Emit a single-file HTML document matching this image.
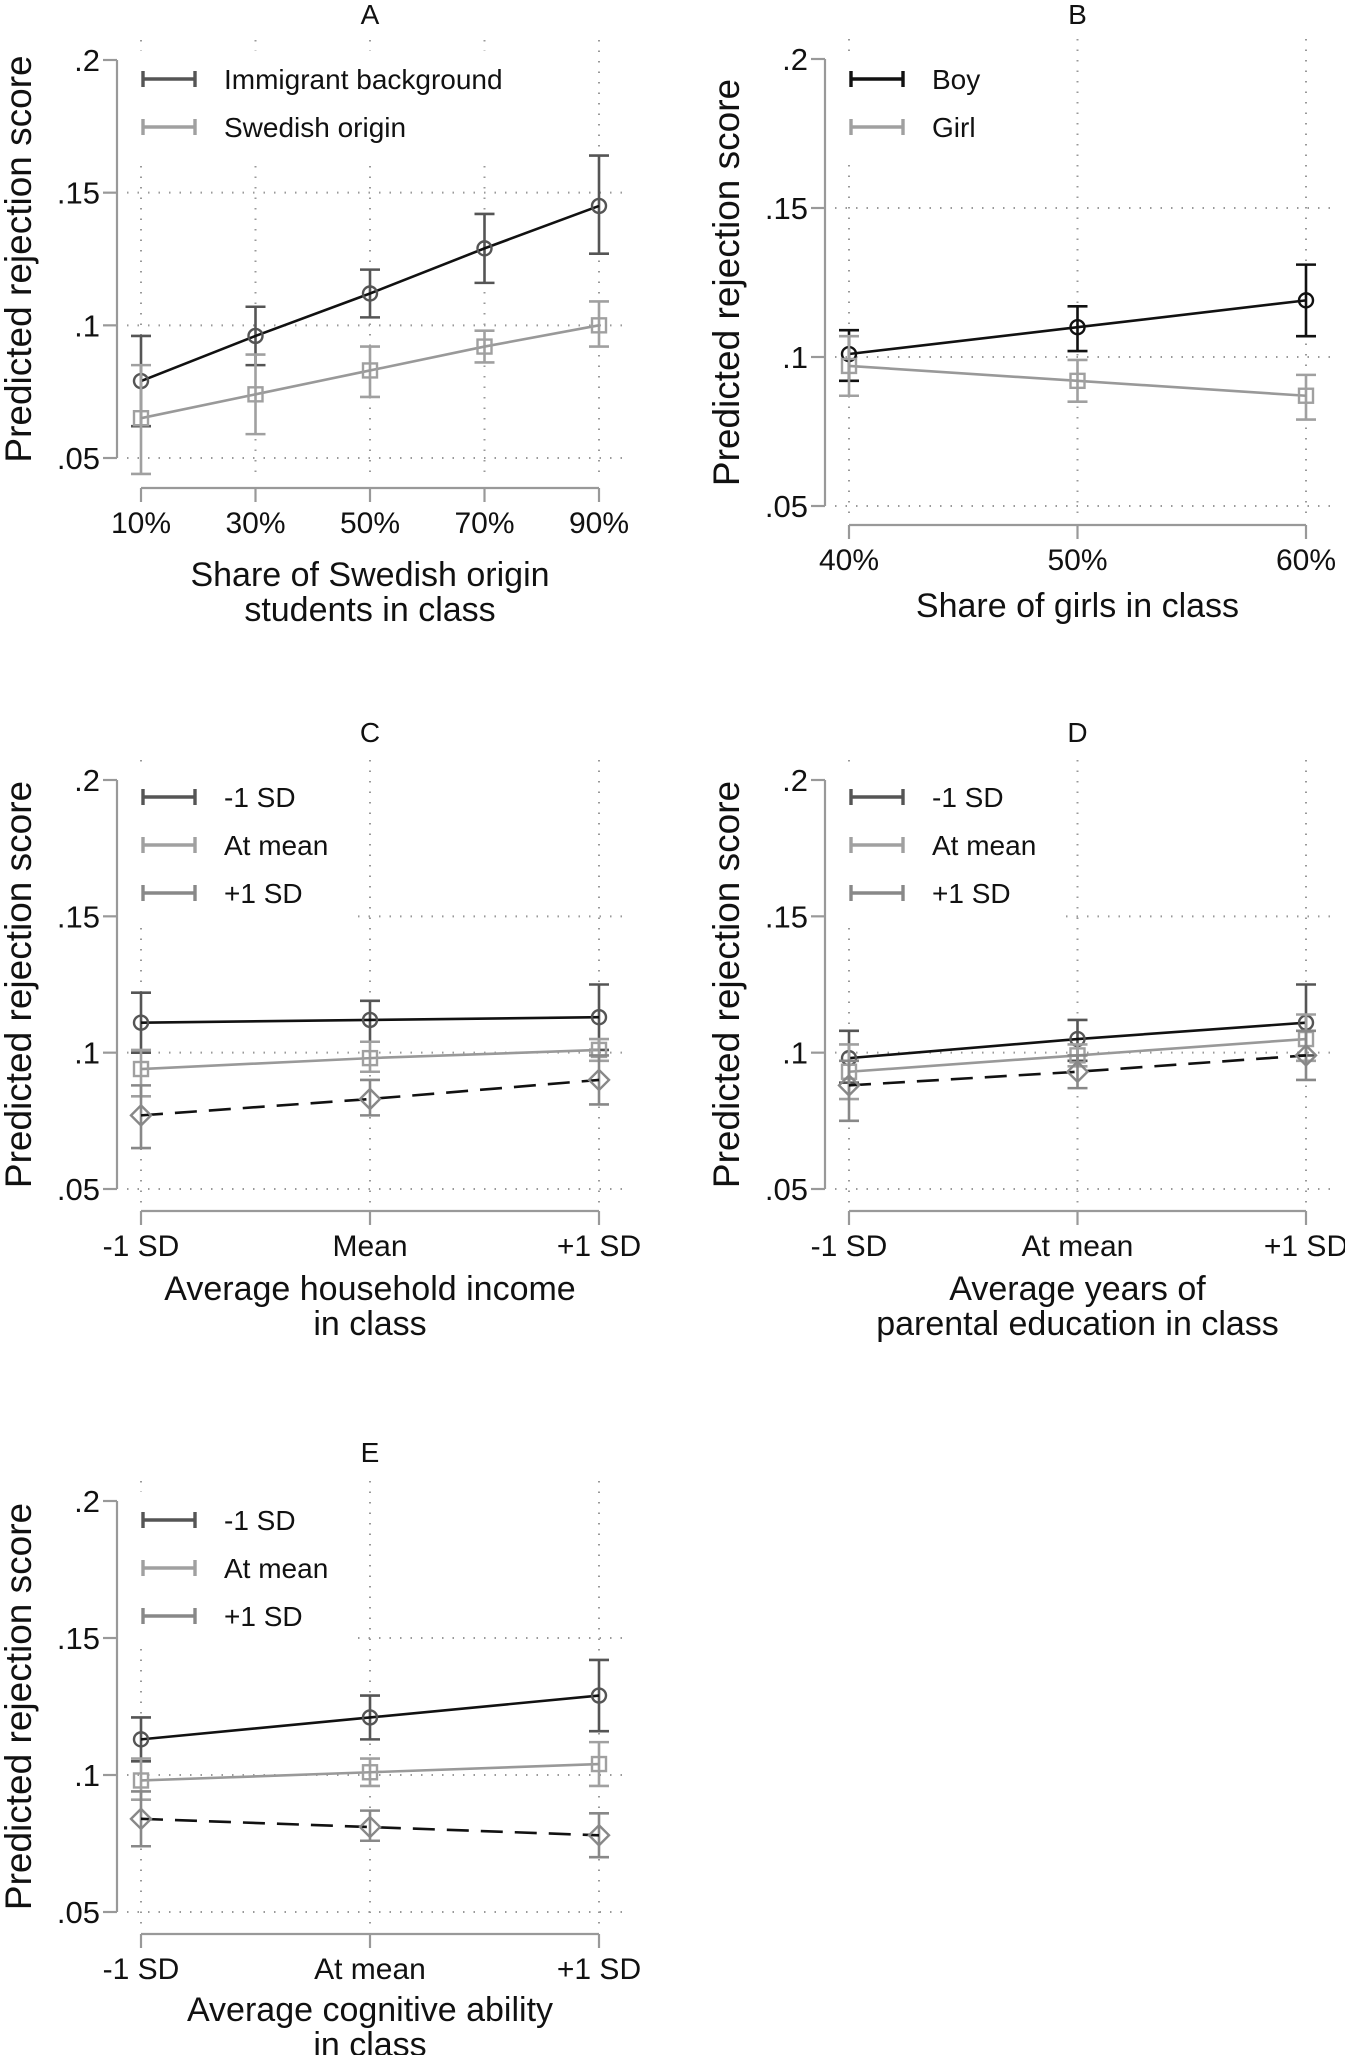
<!DOCTYPE html>
<html><head><meta charset="utf-8"><style>
html,body{margin:0;padding:0;background:#fff}
svg{display:block}
text{font-family:"Liberation Sans",Arial,sans-serif;fill:#111}
</style></head><body>
<svg id="fig" xmlns="http://www.w3.org/2000/svg" width="1345" height="2055" viewBox="0 0 1345 2055"></svg>
<script>
// ---- data ----
const yTicks = [0.05, 0.1, 0.15, 0.2];
const yTickLabels = [".05", ".1", ".15", ".2"];
const catsA = ["10%", "30%", "50%", "70%", "90%"];
const aImm = [0.079, 0.096, 0.112, 0.129, 0.145];
const aImmLo = [0.062, 0.085, 0.103, 0.116, 0.127];
const aImmHi = [0.096, 0.107, 0.121, 0.142, 0.164];
const aSwe = [0.065, 0.074, 0.083, 0.092, 0.100];
const aSweLo = [0.044, 0.059, 0.073, 0.086, 0.092];
const aSweHi = [0.085, 0.089, 0.092, 0.098, 0.109];
const catsB = ["40%", "50%", "60%"];
const bBoy = [0.101, 0.110, 0.119];
const bBoyLo = [0.092, 0.102, 0.107];
const bBoyHi = [0.109, 0.117, 0.131];
const bGirl = [0.097, 0.092, 0.087];
const bGirlLo = [0.087, 0.085, 0.079];
const bGirlHi = [0.107, 0.099, 0.094];
const catsC = ["-1 SD", "Mean", "+1 SD"];
const cLow = [0.111, 0.112, 0.113];
const cLowLo = [0.100, 0.104, 0.101];
const cLowHi = [0.122, 0.119, 0.125];
const cMid = [0.094, 0.098, 0.101];
const cMidLo = [0.084, 0.093, 0.097];
const cMidHi = [0.101, 0.104, 0.105];
const cHigh = [0.077, 0.083, 0.090];
const cHighLo = [0.065, 0.077, 0.081];
const cHighHi = [0.088, 0.090, 0.099];
const catsD = ["-1 SD", "At mean", "+1 SD"];
const dLow = [0.098, 0.105, 0.111];
const dLowLo = [0.089, 0.097, 0.099];
const dLowHi = [0.108, 0.112, 0.125];
const dMid = [0.093, 0.099, 0.105];
const dMidLo = [0.083, 0.095, 0.097];
const dMidHi = [0.103, 0.103, 0.114];
const dHigh = [0.088, 0.093, 0.099];
const dHighLo = [0.075, 0.087, 0.090];
const dHighHi = [0.097, 0.099, 0.108];
const catsE = ["-1 SD", "At mean", "+1 SD"];
const eLow = [0.113, 0.121, 0.129];
const eLowLo = [0.105, 0.113, 0.116];
const eLowHi = [0.121, 0.129, 0.142];
const eMid = [0.098, 0.101, 0.104];
const eMidLo = [0.091, 0.096, 0.096];
const eMidHi = [0.106, 0.106, 0.112];
const eHigh = [0.084, 0.081, 0.078];
const eHighLo = [0.074, 0.076, 0.070];
const eHighHi = [0.094, 0.087, 0.086];

const NS = "http://www.w3.org/2000/svg";
const svg = document.getElementById("fig");
function mk(tag, attrs, parent) {
  const e = document.createElementNS(NS, tag);
  for (const k in attrs) e.setAttribute(k, attrs[k]);
  (parent || svg).appendChild(e);
  return e;
}
function txt(s, attrs, parent) { const t = mk("text", attrs, parent); t.textContent = s; return t; }

function panel(cfg) {
  const g = mk("g", {});
  
  
  const n = cfg.cats.length;
  const xs = i => cfg.x0 + (cfg.x1 - cfg.x0) * i / (n - 1);
  const ys = v => cfg.y05 + (v - 0.05) / 0.15 * (cfg.y2 - cfg.y05);
  const tt = txt(cfg.title, {x: (cfg.x0 + cfg.x1) / 2, y: cfg.titleY, "font-size": 28, "text-anchor": "middle"}, g);
  
  
  const grid = mk("g", {stroke: "#999", "stroke-width": 2, "stroke-dasharray": "1.5 9"}, g);
  
  
  for (let i = 0; i < n; i++) mk("line", {x1: xs(i), x2: xs(i), y1: cfg.y2 - 20, y2: cfg.xAxisY - 8}, grid);
  for (let k = 0; k < 3; k++) {
    const v = yTicks[k];
    mk("line", {x1: cfg.axisX + 10, x2: cfg.gridR, y1: ys(v), y2: ys(v)}, grid);
  }
  mk("rect", {x: cfg.axisX + 6, y: cfg.legY - 28, width: cfg.legW, height: cfg.leg.length * 48 + 10, fill: "#fff"}, g);
  const ya = mk("g", {stroke: "#999", "stroke-width": 2.2, fill: "none"}, g);
  
  
  mk("line", {x1: cfg.axisX, x2: cfg.axisX, y1: ys(0.2), y2: ys(0.05)}, ya);
  yTicks.forEach((v, k) => {
    mk("line", {x1: cfg.axisX - 14, x2: cfg.axisX, y1: ys(v), y2: ys(v)}, ya);
    const l = txt(yTickLabels[k], {x: cfg.axisX - 17, y: ys(v) + 11, "font-size": 31, "text-anchor": "end", stroke: "none"}, g);
    
    
  });
  const xa = mk("g", {stroke: "#999", "stroke-width": 2.2}, g);
  
  
  mk("line", {x1: xs(0), x2: xs(n - 1), y1: cfg.xAxisY, y2: cfg.xAxisY}, xa);
  cfg.cats.forEach((c, i) => {
    mk("line", {x1: xs(i), x2: xs(i), y1: cfg.xAxisY, y2: cfg.xAxisY + 14}, xa);
    const l = txt(c, {x: xs(i), y: cfg.xAxisY + 45, "font-size": 30, "text-anchor": "middle"}, g);
    
    
  });
  cfg.xTitle.forEach((s, j) => {
    const l = txt(s, {x: (cfg.x0 + cfg.x1) / 2, y: cfg.xTitleY + j * 35, "font-size": 34, "text-anchor": "middle"}, g);
    
    
  });
  const yt = txt("Predicted rejection score", {x: 0, y: 0, "font-size": 37, "text-anchor": "middle",
    transform: `translate(${cfg.axisX - 86},${(ys(0.2) + ys(0.05)) / 2}) rotate(-90)`}, g);
  
  
  cfg.series.forEach(s => {
    const sg = mk("g", {}, g);
    
    
    for (let i = 0; i < n; i++) {
      const x = xs(i);
      mk("line", {x1: x, x2: x, y1: ys(s.lo[i]), y2: ys(s.hi[i]), stroke: s.bar, "stroke-width": 2.6}, sg);
      mk("line", {x1: x - 10, x2: x + 10, y1: ys(s.lo[i]), y2: ys(s.lo[i]), stroke: s.bar, "stroke-width": 2.6}, sg);
      mk("line", {x1: x - 10, x2: x + 10, y1: ys(s.hi[i]), y2: ys(s.hi[i]), stroke: s.bar, "stroke-width": 2.6}, sg);
    }
    const pts = s.v.map((v, i) => xs(i) + "," + ys(v)).join(" ");
    const pl = mk("polyline", {points: pts, fill: "none", stroke: s.line, "stroke-width": 2.6}, sg);
    if (s.dash) pl.setAttribute("stroke-dasharray", "22 12");
    for (let i = 0; i < n; i++) {
      const x = xs(i), y = ys(s.v[i]);
      let m;
      if (s.marker === "circle") m = mk("circle", {cx: x, cy: y, r: 7, fill: "none", stroke: s.mk, "stroke-width": 2.4}, sg);
      else if (s.marker === "square") m = mk("rect", {x: x - 7, y: y - 7, width: 14, height: 14, fill: "none", stroke: s.mk, "stroke-width": 2.4}, sg);
      else m = mk("polygon", {points: `${x},${y - 10} ${x + 10},${y} ${x},${y + 10} ${x - 10},${y}`, fill: "none", stroke: s.mk, "stroke-width": 2.4}, sg);
      
      
    }
  });
  cfg.leg.forEach((s, j) => {
    const lg = mk("g", {}, g);
    
    
    const y = cfg.legY + j * 48, a = cfg.axisX + 26, b = cfg.axisX + 78;
    mk("line", {x1: a, x2: b, y1: y, y2: y, stroke: s.c, "stroke-width": 3.4}, lg);
    mk("line", {x1: a, x2: a, y1: y - 8, y2: y + 8, stroke: s.c, "stroke-width": 3.4}, lg);
    mk("line", {x1: b, x2: b, y1: y - 8, y2: y + 8, stroke: s.c, "stroke-width": 3.4}, lg);
    txt(s.t, {x: cfg.axisX + 107, y: y + 10, "font-size": 28}, lg);
  });
}
const DK = "#555", LT = "#a0a0a0", MD = "#888";
function three(lowV, lowL, lowH, midV, midL, midH, hiV, hiL, hiH) {
  return [
    {name: "series-minus-1sd", v: lowV, lo: lowL, hi: lowH, line: "#111", bar: DK, mk: DK, marker: "circle"},
    {name: "series-at-mean", v: midV, lo: midL, hi: midH, line: "#999", bar: LT, mk: LT, marker: "square"},
    {name: "series-plus-1sd", v: hiV, lo: hiL, hi: hiH, line: "#111", bar: MD, mk: MD, marker: "diamond", dash: true}
  ];
}
const leg3 = [{t: "-1 SD", c: DK}, {t: "At mean", c: LT}, {t: "+1 SD", c: MD}];

panel({name: "panel-a", title: "A", cats: catsA, x0: 141, x1: 599, axisX: 117, y2: 60, y05: 458, xAxisY: 488,
  titleY: 24, gridR: 622, xTitleY: 586, xTitle: ["Share of Swedish origin", "students in class"],
  legY: 79, legW: 380,
  series: [
    {name: "series-immigrant", v: aImm, lo: aImmLo, hi: aImmHi, line: "#111", bar: DK, mk: DK, marker: "circle"},
    {name: "series-swedish", v: aSwe, lo: aSweLo, hi: aSweHi, line: "#999", bar: LT, mk: LT, marker: "square"}],
  leg: [{t: "Immigrant background", c: DK}, {t: "Swedish origin", c: LT}]});

panel({name: "panel-b", title: "B", cats: catsB, x0: 849, x1: 1306, axisX: 825, y2: 59, y05: 506, xAxisY: 525,
  titleY: 24, gridR: 1332, xTitleY: 617, xTitle: ["Share of girls in class"],
  legY: 79, legW: 200,
  series: [
    {name: "series-boy", v: bBoy, lo: bBoyLo, hi: bBoyHi, line: "#111", bar: "#111", mk: "#111", marker: "circle"},
    {name: "series-girl", v: bGirl, lo: bGirlLo, hi: bGirlHi, line: "#999", bar: LT, mk: LT, marker: "square"}],
  leg: [{t: "Boy", c: "#111"}, {t: "Girl", c: LT}]});

panel({name: "panel-c", title: "C", cats: catsC, x0: 141, x1: 599, axisX: 117, y2: 780, y05: 1189, xAxisY: 1211,
  titleY: 742, gridR: 622, xTitleY: 1300, xTitle: ["Average household income", "in class"],
  legY: 797, legW: 235,
  series: three(cLow, cLowLo, cLowHi, cMid, cMidLo, cMidHi, cHigh, cHighLo, cHighHi), leg: leg3});

panel({name: "panel-d", title: "D", cats: catsD, x0: 849, x1: 1306, axisX: 825, y2: 780, y05: 1189, xAxisY: 1211,
  titleY: 742, gridR: 1332, xTitleY: 1300, xTitle: ["Average years of", "parental education in class"],
  legY: 797, legW: 235,
  series: three(dLow, dLowLo, dLowHi, dMid, dMidLo, dMidHi, dHigh, dHighLo, dHighHi), leg: leg3});

panel({name: "panel-e", title: "E", cats: catsE, x0: 141, x1: 599, axisX: 117, y2: 1501, y05: 1912, xAxisY: 1934,
  titleY: 1462, gridR: 622, xTitleY: 2021, xTitle: ["Average cognitive ability", "in class"],
  legY: 1520, legW: 235,
  series: three(eLow, eLowLo, eLowHi, eMid, eMidLo, eMidHi, eHigh, eHighLo, eHighHi), leg: leg3});
</script>
</body></html>
